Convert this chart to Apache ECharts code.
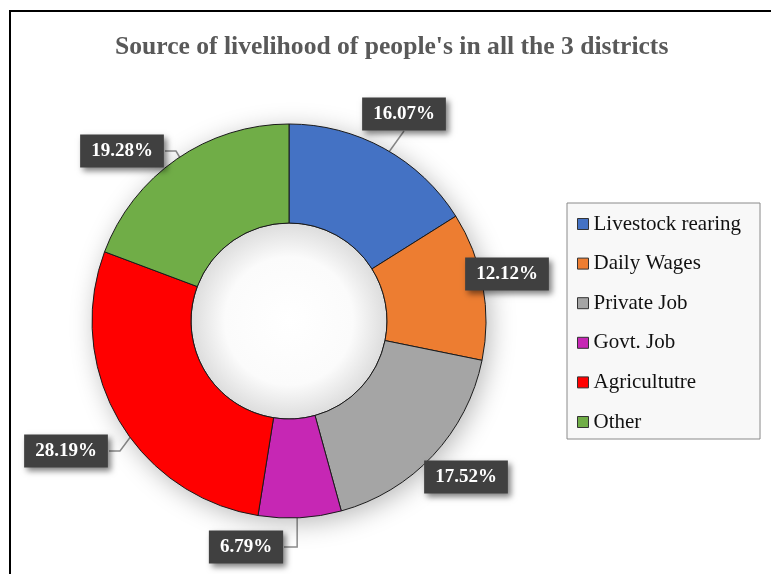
<!DOCTYPE html>
<html>
<head>
<meta charset="utf-8">
<title>Source of livelihood</title>
<script src="https://cdn.jsdelivr.net/npm/echarts@6/dist/echarts.min.js"></script>
<style>
  html, body { margin: 0; padding: 0; background: #ffffff; }
  #chart { width: 771px; height: 574px; }
</style>
</head>
<body>
<div id="chart"></div>
<script>
// Livelihood shares across the three districts (percent)
const categories = ['Livestock rearing', 'Daily Wages', 'Private Job', 'Govt. Job', 'Agricultutre', 'Other'];
const shares = [16.07, 12.12, 17.52, 6.79, 28.19, 19.28];
const sliceColors = ['#4472C4', '#ED7D31', '#A5A5A5', '#C627B4', '#FF0000', '#70AD47'];

// Ring geometry (px)
const CX = 289, CY = 321, R_IN = 98, R_OUT = 197;
const R_MID = (R_IN + R_OUT) / 2;

// Where each value tag sits, and the route its leader line takes after leaving the slice
const tagSpots = [
  { cx: 404, cy: 114, route: [[404, 131], [404, 131]] },
  { cx: 507, cy: 274, route: null },
  { cx: 466, cy: 477, route: null },
  { cx: 246, cy: 547, route: 'elbowLeft' },
  { cx: 66,  cy: 451, route: [[120, 451], [109, 451]] },
  { cx: 122, cy: 151, route: [[176, 151], [165, 151]] }
];

const total = shares.reduce((a, b) => a + b, 0);

// Point in the middle of the ring at a slice's mid-angle (clockwise from 12 o'clock)
function sliceAnchor(i) {
  let before = 0;
  for (let k = 0; k < i; k++) before += shares[k];
  const a = ((before + shares[i] / 2) / total) * Math.PI * 2;
  return [CX + R_MID * Math.sin(a), CY - R_MID * Math.cos(a)];
}

function leaderPoints(i) {
  const spot = tagSpots[i];
  const start = sliceAnchor(i);
  if (spot.route === 'elbowLeft') {
    return [start, [start[0], spot.cy], [spot.cx + 38, spot.cy]];
  }
  return [start].concat(spot.route);
}

const chart = echarts.init(document.getElementById('chart'), null, { renderer: 'canvas' });

const option = {
  backgroundColor: '#ffffff',
  animation: false,
  title: {
    text: "Source of livelihood of people's in all the 3 districts",
    left: 115,
    top: 34,
    padding: 0,
    textStyle: {
      fontFamily: 'Liberation Serif',
      fontWeight: 'bold',
      fontSize: 25.6,
      color: '#595959'
    }
  },
  legend: {
    data: categories,
    orient: 'vertical',
    left: 567,
    top: 203,
    icon: 'rect',
    itemWidth: 11,
    itemHeight: 11,
    itemGap: 17.6,
    padding: [10, 19, 6, 10],
    backgroundColor: '#f8f8f8',
    borderColor: '#8a8a8a',
    borderWidth: 1,
    borderRadius: 0,
    selectedMode: false,
    itemStyle: { borderColor: '#333333', borderWidth: 1 },
    textStyle: {
      fontFamily: 'Liberation Serif',
      fontSize: 21,
      lineHeight: 22,
      color: '#111111'
    }
  },
  graphic: [{
    type: 'rect',
    silent: true,
    z: 100,
    shape: { x: 10, y: 11, width: 900, height: 800 },
    style: { fill: null, stroke: '#000000', lineWidth: 2 }
  }],
  series: [
    {
      // soft drop shadow under the ring
      type: 'pie',
      silent: true,
      center: [CX, CY],
      radius: [R_IN, R_OUT],
      label: { show: false },
      labelLine: { show: false },
      emphasis: { disabled: true },
      itemStyle: {
        color: '#ffffff',
        shadowBlur: 26,
        shadowColor: 'rgba(0,0,0,0.28)',
        shadowOffsetX: 4,
        shadowOffsetY: 5
      },
      data: [{ value: 1, name: '' }]
    },
    {
      // shaded hole in the middle
      type: 'pie',
      silent: true,
      center: [CX, CY],
      radius: [0, R_IN],
      label: { show: false },
      labelLine: { show: false },
      emphasis: { disabled: true },
      itemStyle: {
        color: {
          type: 'radial', x: 0.5, y: 0.5, r: 0.5,
          colorStops: [
            { offset: 0, color: '#ffffff' },
            { offset: 0.65, color: '#fbfbfb' },
            { offset: 1, color: '#dcdcdc' }
          ]
        },
        borderColor: '#222222',
        borderWidth: 1
      },
      data: [{ value: 1, name: '' }]
    },
    {
      name: 'Source of livelihood',
      type: 'pie',
      center: [CX, CY],
      radius: [R_IN, R_OUT],
      startAngle: 90,
      clockwise: true,
      avoidLabelOverlap: false,
      emphasis: { disabled: true },
      itemStyle: { borderColor: '#1a1a1a', borderWidth: 1 },
      label: {
        show: true,
        position: 'outside',
        formatter: p => p.value.toFixed(2) + '%',
        color: '#ffffff',
        fontFamily: 'Liberation Serif',
        fontWeight: 'bold',
        fontSize: 19,
        lineHeight: 22,
        backgroundColor: '#404040',
        padding: [6, 11, 5, 11],
        shadowColor: 'rgba(0,0,0,0.5)',
        shadowBlur: 6,
        shadowOffsetX: 3,
        shadowOffsetY: 3
      },
      labelLine: {
        show: true,
        lineStyle: { color: '#8c8c8c', width: 1.5 }
      },
      labelLayout: function (p) {
        const spot = tagSpots[p.dataIndex];
        const out = { x: spot.cx, y: spot.cy, align: 'center', verticalAlign: 'middle' };
        if (spot.route) out.labelLinePoints = leaderPoints(p.dataIndex);
        return out;
      },
      data: categories.map((name, i) => ({
        name: name,
        value: shares[i],
        itemStyle: { color: sliceColors[i] },
        labelLine: { show: tagSpots[i].route !== null }
      }))
    }
  ]
};

chart.setOption(option);
</script>
</body>
</html>
